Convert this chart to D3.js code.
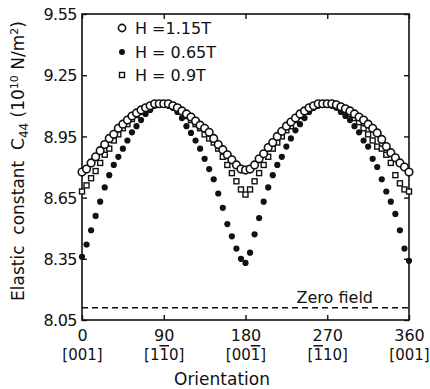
<!DOCTYPE html>
<html>
<head>
<meta charset="utf-8">
<script src="https://cdn.jsdelivr.net/npm/d3@7"></script>
<style>
  body { margin: 0; background: #fff; }
  text { font-family: "DejaVu Sans", sans-serif; fill: #111; }
</style>
</head>
<body>
<div id="chart"></div>
<script>
// orientation angles, every 5 degrees
var angles = d3.range(0, 361, 5);

// H = 1.15 T (open circles)
var h115 = [8.775, 8.79, 8.82, 8.85, 8.88, 8.91, 8.94, 8.96, 8.99, 9.01, 9.03, 9.05, 9.065, 9.08, 9.09, 9.10, 9.11, 9.11, 9.11,
            9.11, 9.10, 9.09, 9.075, 9.06, 9.045, 9.025, 9.005, 8.99, 8.97, 8.94, 8.91, 8.885, 8.86, 8.835, 8.81, 8.79,
            8.785, 8.79, 8.81, 8.84, 8.865, 8.895, 8.92, 8.95, 8.975, 9.00, 9.02, 9.04, 9.06, 9.075, 9.09, 9.10, 9.11, 9.11,
            9.11, 9.11, 9.105, 9.095, 9.085, 9.075, 9.06, 9.045, 9.03, 9.01, 8.99, 8.967, 8.935, 8.90, 8.87, 8.845, 8.82, 8.80, 8.775];

// H = 0.65 T (filled circles)
var h065 = [8.36, 8.42, 8.49, 8.56, 8.63, 8.70, 8.76, 8.81, 8.85, 8.89, 8.93, 8.97, 9.00, 9.03, 9.06, 9.08, 9.10, 9.11, 9.11,
            9.10, 9.09, 9.07, 9.04, 9.00, 8.967, 8.93, 8.89, 8.84, 8.79, 8.74, 8.67, 8.60, 8.52, 8.46, 8.40, 8.35,
            8.33, 8.38, 8.47, 8.55, 8.63, 8.70, 8.76, 8.81, 8.85, 8.90, 8.94, 8.98, 9.01, 9.04, 9.07, 9.09, 9.10, 9.11,
            9.11, 9.10, 9.09, 9.07, 9.05, 9.03, 9.00, 8.97, 8.93, 8.90, 8.84, 8.80, 8.74, 8.68, 8.63, 8.57, 8.49, 8.40, 8.34];

// H = 0.9 T (small squares)
var h090 = [8.68, 8.71, 8.745, 8.78, 8.82, 8.86, 8.89, 8.93, 8.96, 8.99, 9.01, 9.035, 9.055, 9.07, 9.085, 9.095, 9.105, 9.11, 9.11,
            9.11, 9.10, 9.09, 9.07, 9.05, 9.03, 9.01, 8.99, 8.96, 8.94, 8.92, 8.89, 8.85, 8.81, 8.77, 8.73, 8.69,
            8.665, 8.69, 8.73, 8.77, 8.81, 8.85, 8.89, 8.92, 8.95, 8.98, 9.00, 9.03, 9.05, 9.07, 9.085, 9.10, 9.105, 9.11,
            9.11, 9.11, 9.10, 9.09, 9.075, 9.06, 9.04, 9.02, 8.99, 8.96, 8.93, 8.90, 8.89, 8.86, 8.82, 8.76, 8.72, 8.69, 8.68];

var zeroField = 8.11;

var yTicks = [8.05, 8.35, 8.65, 8.95, 9.25, 9.55];
var xTicks = [0, 90, 180, 270, 360];
// direction labels: [a, b, c] with a flag for an overbar on each digit
var xSubLabels = [
  [["0", 0], ["0", 0], ["1", 0]],
  [["1", 0], ["1", 1], ["0", 0]],
  [["0", 0], ["0", 0], ["1", 1]],
  [["1", 1], ["1", 0], ["0", 0]],
  [["0", 0], ["0", 0], ["1", 0]]
];
var legendLabels = ["H =1.15T", "H = 0.65T", "H = 0.9T"];

(function() {
  var width = 430, height = 389;
  var mLeft = 82, mRight = 409, mTop = 14, mBottom = 320;

  var svg = d3.select("#chart").append("svg")
    .attr("width", width)
    .attr("height", height);

  var x = d3.scaleLinear().domain([0, 360]).range([mLeft, mRight]);
  var y = d3.scaleLinear().domain([8.05, 9.55]).range([mBottom, mTop]);

  // axes, ticks pointing inward
  var gl = svg.append("g").attr("transform", "translate(" + mLeft + ",0)")
    .call(d3.axisLeft(y).tickValues(yTicks).tickSize(-5).tickPadding(6).tickFormat(d3.format(".2f")));
  var gr = svg.append("g").attr("transform", "translate(" + mRight + ",0)")
    .call(d3.axisRight(y).tickValues(yTicks).tickSize(-5).tickFormat(""));
  var gt = svg.append("g").attr("transform", "translate(0," + mTop + ")")
    .call(d3.axisTop(x).tickValues(xTicks).tickSize(-5).tickFormat(""));
  var gb = svg.append("g").attr("transform", "translate(0," + mBottom + ")")
    .call(d3.axisBottom(x).tickValues(xTicks).tickSize(-5).tickPadding(6).tickFormat(d3.format("d")));

  [gl, gr, gt, gb].forEach(function(g) {
    g.select(".domain").remove();
    g.selectAll(".tick line").attr("stroke", "#111").attr("stroke-width", 1.4);
    g.selectAll("text").style("font-family", "DejaVu Sans").style("font-size", "16px").attr("fill", "#111");
  });
  gl.selectAll("text").attr("dx", "1px").attr("dy", "0.36em").style("letter-spacing", "-0.5px");
  gb.selectAll("text").attr("dy", "0.95em");

  // second row of x labels (directions), overbars via text-decoration
  var sub = gb.selectAll(".tick").append("text")
    .attr("y", 40)
    .attr("text-anchor", "middle")
    .style("font-family", "DejaVu Sans")
    .style("font-size", "15px")
    .attr("fill", "#111");
  sub.each(function(d, i) {
    var t = d3.select(this);
    t.append("tspan").text("[");
    xSubLabels[i].forEach(function(c) {
      t.append("tspan").style("text-decoration", c[1] ? "overline" : "none").text(c[0]);
    });
    t.append("tspan").text("]");
  });

  // frame
  svg.append("rect")
    .attr("x", mLeft).attr("y", mTop)
    .attr("width", mRight - mLeft).attr("height", mBottom - mTop)
    .attr("fill", "none").attr("stroke", "#111").attr("stroke-width", 1.6);

  // zero field line
  svg.append("line")
    .attr("x1", x(0)).attr("x2", x(360))
    .attr("y1", y(zeroField)).attr("y2", y(zeroField))
    .attr("stroke", "#111").attr("stroke-width", 1.4)
    .attr("stroke-dasharray", "6,4");
  svg.append("text")
    .attr("x", 373).attr("y", y(zeroField) - 5)
    .attr("text-anchor", "end")
    .style("font-size", "16px")
    .text("Zero field");

  // data marks
  var pts = svg.append("g");

  pts.selectAll(".sq").data(h090).enter().append("rect")
    .attr("class", "sq")
    .attr("x", function(d, i) { return x(angles[i]) - 2.5; })
    .attr("y", function(d) { return y(d) - 2.5; })
    .attr("width", 5).attr("height", 5)
    .attr("fill", "#fff").attr("stroke", "#111").attr("stroke-width", 1.4);

  pts.selectAll(".fc").data(h065).enter().append("circle")
    .attr("class", "fc")
    .attr("cx", function(d, i) { return x(angles[i]); })
    .attr("cy", function(d) { return y(d); })
    .attr("r", 3.1)
    .attr("fill", "#111");

  pts.selectAll(".oc").data(h115).enter().append("circle")
    .attr("class", "oc")
    .attr("cx", function(d, i) { return x(angles[i]); })
    .attr("cy", function(d) { return y(d); })
    .attr("r", 3.8)
    .attr("fill", "#fff").attr("stroke", "#111").attr("stroke-width", 1.6);

  // legend
  var lg = svg.append("g");
  var rows = [28, 52, 75];
  lg.append("circle").attr("cx", 122).attr("cy", rows[0]).attr("r", 3.6)
    .attr("fill", "#fff").attr("stroke", "#111").attr("stroke-width", 1.6);
  lg.append("circle").attr("cx", 122).attr("cy", rows[1]).attr("r", 3.0).attr("fill", "#111");
  lg.append("rect").attr("x", 122 - 2.5).attr("y", rows[2] - 2.5).attr("width", 5).attr("height", 5)
    .attr("fill", "#fff").attr("stroke", "#111").attr("stroke-width", 1.4);
  lg.selectAll("text").data(legendLabels).enter().append("text")
    .attr("x", 135)
    .attr("y", function(d, i) { return rows[i]; })
    .attr("dy", "0.36em")
    .style("font-size", "16px")
    .text(function(d) { return d; });

  // axis titles
  svg.append("text")
    .attr("x", 222).attr("y", 385)
    .attr("text-anchor", "middle")
    .style("font-size", "17px")
    .text("Orientation");

  var yt = svg.append("text")
    .attr("transform", "translate(24,161) rotate(-90)")
    .attr("text-anchor", "middle")
    .style("font-size", "17px")
    .style("white-space", "pre");
  yt.append("tspan").text("Elastic  constant  C");
  yt.append("tspan").attr("dy", 4).style("font-size", "12px").text("44");
  yt.append("tspan").attr("dy", -4).text(" (10");
  yt.append("tspan").attr("dy", -6).style("font-size", "11px").text("10");
  yt.append("tspan").attr("dy", 6).text(" N/m");
  yt.append("tspan").attr("dy", -6).style("font-size", "11px").text("2");
  yt.append("tspan").attr("dy", 6).text(")");
})();
</script>
</body>
</html>
